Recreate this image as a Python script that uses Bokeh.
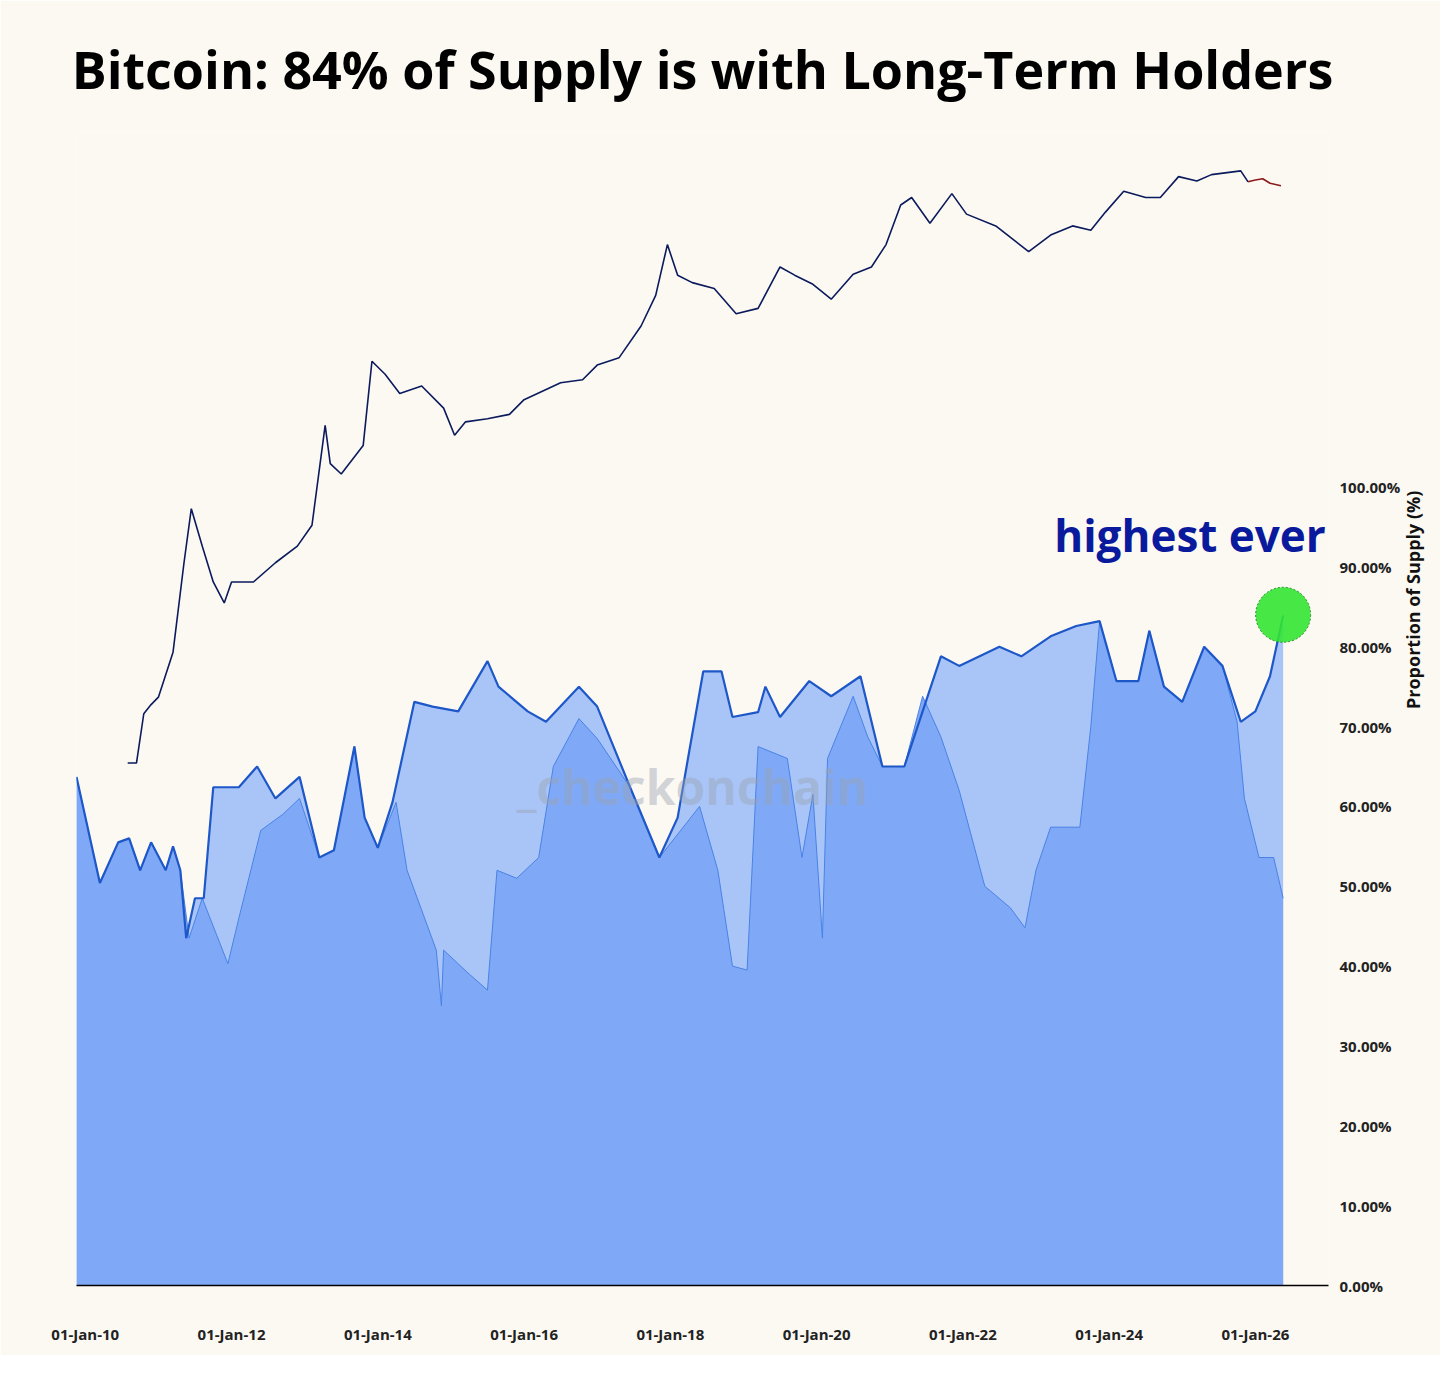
import numpy as np
from bokeh.plotting import figure
from bokeh.models import Range1d, FixedTicker, LogScale, Label
from bokeh.embed import file_html
from bokeh.resources import INLINE

# Long-term holder supply share (%), upper envelope
lth_year = [2009.88,2010.2,2010.45,2010.6,2010.75,2010.9,2011.1,2011.2,2011.3,2011.38,2011.5,2011.62,2011.75,2012.1,2012.35,2012.6,2012.93,2013.2,2013.4,2013.68,2013.82,2014.0,2014.2,2014.5,2014.75,2015.1,2015.5,2015.65,2016.05,2016.3,2016.75,2017.0,2017.45,2017.85,2018.1,2018.45,2018.7,2018.85,2019.2,2019.3,2019.5,2019.9,2020.2,2020.6,2020.9,2021.2,2021.7,2021.95,2022.5,2022.8,2023.2,2023.55,2023.87,2024.1,2024.4,2024.55,2024.75,2025.0,2025.3,2025.55,2025.8,2026.0,2026.2,2026.38]
lth_pct = [63.7,50.4,55.5,56.0,52.0,55.5,52.0,55.0,52.0,43.5,48.5,48.5,62.4,62.4,65.0,61.0,63.7,53.6,54.5,67.5,58.6,54.8,60.5,73.1,72.5,71.9,78.2,75.0,71.9,70.6,75.0,72.5,62.4,53.6,58.6,76.9,76.9,71.2,71.8,75.0,71.2,75.7,73.8,76.3,65.0,65.0,78.8,77.6,80.0,78.8,81.3,82.6,83.2,75.7,75.7,82.0,75.0,73.1,80.0,77.6,70.6,71.9,76.3,83.9]
# Lower (noisier) series, %
low_year = [2009.88,2010.2,2010.45,2010.6,2010.75,2010.9,2011.1,2011.2,2011.3,2011.42,2011.6,2011.95,2012.1,2012.4,2012.7,2012.93,2013.2,2013.4,2013.68,2013.82,2014.0,2014.25,2014.4,2014.8,2014.87,2014.9,2015.25,2015.5,2015.63,2015.9,2016.2,2016.4,2016.75,2017.0,2017.45,2017.85,2018.4,2018.65,2018.85,2019.05,2019.2,2019.6,2019.8,2019.95,2020.08,2020.15,2020.5,2020.7,2020.9,2021.2,2021.45,2021.7,2021.95,2022.3,2022.65,2022.85,2023.0,2023.2,2023.6,2023.75,2023.87,2024.1,2024.4,2024.55,2024.75,2025.0,2025.3,2025.55,2025.75,2025.85,2026.05,2026.25,2026.38]
low_pct = [63.7,50.4,55.5,56.0,52.0,55.5,52.0,55.0,52.0,43.5,48.5,40.3,46.0,57.0,59.0,61.0,53.6,54.5,67.5,58.6,54.8,60.5,52.0,42.0,35.0,42.0,39.0,37.0,52.0,51.0,53.6,65.0,71.0,68.5,62.4,53.6,60.0,52.0,40.0,39.5,67.5,66.0,53.6,61.5,43.5,66.0,73.8,68.7,65.0,65.0,73.8,68.7,62.0,50.0,47.3,44.8,52.0,57.4,57.4,70.0,83.2,75.7,75.7,82.0,75.0,73.1,80.0,77.6,70.6,61.0,53.6,53.6,48.5]
# Bitcoin price (USD)
px_year = [2010.58,2010.7,2010.8,2010.9,2011.0,2011.2,2011.35,2011.45,2011.6,2011.75,2011.9,2012.0,2012.3,2012.6,2012.9,2013.1,2013.28,2013.35,2013.5,2013.8,2013.92,2014.1,2014.3,2014.6,2014.9,2015.05,2015.2,2015.5,2015.8,2016.0,2016.5,2016.8,2017.0,2017.3,2017.6,2017.8,2017.96,2018.1,2018.3,2018.6,2018.9,2019.2,2019.5,2019.7,2019.95,2020.2,2020.5,2020.75,2020.95,2021.15,2021.3,2021.55,2021.85,2022.05,2022.45,2022.9,2023.2,2023.5,2023.75,2023.95,2024.2,2024.5,2024.7,2024.95,2025.2,2025.4,2025.8,2025.9,2026.0,2026.1,2026.2,2026.35]
px_usd = [0.06,0.06,0.2,0.25,0.3,0.9,8,30,12,5,3,5,5,8,12,20,230,90,70,140,1100,800,500,600,350,180,250,270,300,430,650,700,1000,1200,2600,5500,19000,9000,7500,6500,3500,4000,11000,9000,7200,5000,9200,11000,19000,50000,60000,32000,66000,40000,30000,16000,24000,30000,27000,42000,70000,60000,60000,100000,90000,105000,115000,88000,92000,95000,85000,80000]

pct_ticks = [0,10,20,30,40,50,60,70,80,90,100]
x_ticks = [2010,2012,2014,2016,2018,2020,2022,2024,2026]
x_labels = ["01-Jan-10","01-Jan-12","01-Jan-14","01-Jan-16","01-Jan-18","01-Jan-20","01-Jan-22","01-Jan-24","01-Jan-26"]

BG = "#fcf9f3"
p = figure(width=1440, height=1355, output_backend="svg", toolbar_location=None,
           x_range=Range1d(2009.88, 2027.0), y_range=Range1d(0, 144.4),
           y_axis_location="right", background_fill_color=BG, border_fill_color=BG,
           min_border_left=76, min_border_right=100, min_border_top=132, min_border_bottom=70,
           outline_line_color=None)
p.title.text = "Bitcoin: 84% of Supply is with Long-Term Holders"
p.title.text_font = "Open Sans"
p.title.text_font_style = "bold"
p.title.text_font_size = "52px"
p.title.text_color = "#000000"
p.title.align = "center"
p.title.offset = 0
p.title.standoff = 58
p.grid.visible = False

p.extra_y_ranges = {"px": Range1d(10**-6.765, 10**5.468)}
p.extra_y_scales = {"px": LogScale()}

lx = np.array(lth_year); ly = np.array(lth_pct)
p.varea(x=lx, y1=0, y2=ly, fill_color="#a9c5f7")
p.varea(x=np.array(low_year), y1=0, y2=np.array(low_pct), fill_color="#7fa9f6")
p.line(low_year, low_pct, line_color="#4a82e6", line_width=1)
p.line(lth_year, lth_pct, line_color="#1d57c8", line_width=2.2)

k = px_year.index(2025.9)
p.line(px_year[:k+1], px_usd[:k+1], y_range_name="px", line_color="#0a1a5c", line_width=1.6)
p.line(px_year[k:], px_usd[k:], y_range_name="px", line_color="#8b1a1a", line_width=1.6)

p.scatter([2026.38], [84.0], size=55, fill_color="#33e633", fill_alpha=0.9,
          line_color="#2a8a2a", line_dash="2 2", line_width=1)

p.add_layout(Label(x=2023.25, y=94, text="highest ever", text_font="Open Sans",
                   text_font_style="bold", text_font_size="44px", text_color="#0a1a9c",
                   text_baseline="middle"))
p.add_layout(Label(x=2015.9, y=62.5, text="_checkonchain", text_font="Open Sans",
                   text_font_style="bold", text_font_size="48px", text_color="#9aa3b5",
                   text_alpha=0.45, text_baseline="middle"))

ya = p.yaxis[0]
ya.ticker = FixedTicker(ticks=pct_ticks)
ya.major_label_overrides = {t: f"{t:.2f}%" for t in pct_ticks}
ya.axis_line_color = None
ya.major_tick_line_color = None
ya.minor_tick_line_color = None
ya.major_label_text_font = "Open Sans"
ya.major_label_text_font_style = "bold"
ya.major_label_text_font_size = "15px"
ya.major_label_text_color = "#222222"
ya.axis_label = "Proportion of Supply (%)"
ya.axis_label_orientation = float(np.pi / 2)
ya.axis_label_text_font = "Open Sans"
ya.axis_label_text_font_style = "bold"
ya.axis_label_text_font_size = "18px"
ya.axis_label_text_color = "#111111"
ya.axis_label_standoff = 10

xa = p.xaxis[0]
xa.ticker = FixedTicker(ticks=x_ticks)
xa.major_label_overrides = dict(zip(x_ticks, x_labels))
xa.axis_line_color = "#000000"
xa.axis_line_width = 1.5
xa.major_tick_line_color = None
xa.minor_tick_line_color = None
xa.major_label_standoff = 32
xa.major_label_text_font = "Open Sans"
xa.major_label_text_font_style = "bold"
xa.major_label_text_font_size = "15px"
xa.major_label_text_color = "#222222"

open("out.html", "w").write(file_html(p, INLINE))
